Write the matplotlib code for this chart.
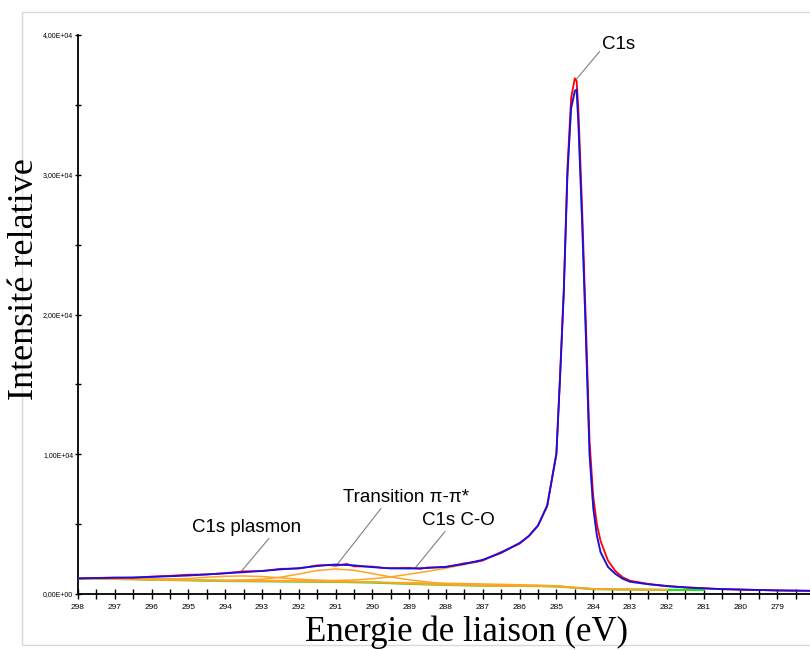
import matplotlib
matplotlib.use("Agg")
import matplotlib.pyplot as plt
from matplotlib.patches import Rectangle
from matplotlib.ticker import MultipleLocator, FixedLocator, FuncFormatter

energie_fit = [298, 297, 296, 295, 294, 293.5, 293, 292.5, 292, 291.5, 291, 290.5,
               290, 289.5, 289, 288.5, 288, 287.5, 287, 286.5, 286, 285.75, 285.5,
               285.25, 285.0, 284.9, 284.8, 284.7, 284.6, 284.5, 284.45, 284.4,
               284.3, 284.2, 284.1, 284.0, 283.9, 283.8, 283.6, 283.4, 283.2, 283.0,
               282.5, 282, 281.5, 281, 280, 279, 278]
enveloppe = [1120, 1160, 1220, 1320, 1480, 1560, 1650, 1760, 1850, 2000, 2110, 2050,
             1920, 1830, 1820, 1860, 1950, 2150, 2450, 2950, 3650, 4150, 4900,
             6300, 10000, 15500, 21500, 30000, 34800, 36000, 36100, 33500,
             26500, 18500, 10000, 6200, 4200, 3000, 1950, 1450, 1100, 880,
             700, 560, 470, 400, 310, 260, 230]
c1s_principal = [1120, 1080, 1040, 1000, 985, 975, 965, 960, 960, 965, 975, 1000,
                 1090, 1230, 1420, 1620, 1850, 2100, 2420, 2920, 3620, 4120, 4870,
                 6270, 9950, 15400, 21400, 29800, 34600, 35800, 35900, 33300,
                 26300, 18300, 9900, 6100, 4100, 2950, 1900, 1420, 1080, 860,
                 690, 550, 460, 390, 300, 250, 220]

energie_mes = [298, 297.5, 297, 296.5, 296, 295.5, 295, 294.5, 294, 293.5, 293, 292.5,
               292, 291.5, 291.2, 291, 290.7, 290.5, 290, 289.7, 289.5, 289, 288.7,
               288.5, 288, 287.5, 287.2, 287, 286.5, 286, 285.75, 285.5, 285.25,
               285.0, 284.9, 284.8, 284.7, 284.6, 284.5, 284.45, 284.4, 284.3, 284.2,
               284.1, 284.0, 283.9, 283.8, 283.6, 283.4, 283.2, 283.0, 282.5, 282,
               281.5, 281, 280.5, 280, 279, 278]
mesure = [1100, 1150, 1180, 1150, 1250, 1300, 1380, 1400, 1490, 1620, 1640, 1800,
          1820, 2050, 2080, 2020, 2150, 1980, 1960, 1870, 1850, 1870, 1800,
          1900, 1920, 2200, 2280, 2400, 3000, 3600, 4150, 4900, 6350,
          10100, 15700, 21800, 30500, 35500, 36900, 36700, 34500, 27500, 19500,
          11000, 7000, 5000, 3800, 2400, 1650, 1200, 950,
          720, 580, 480, 420, 340, 330, 250, 220]

energie_fond = [298, 297, 296, 295, 294, 293, 292, 291, 290, 289, 288, 287, 286,
                285.5, 285, 284.5, 284, 283, 282, 281]
fond = [1120, 1080, 1030, 980, 930, 910, 890, 870, 820, 730, 650, 600, 580,
        570, 540, 450, 350, 320, 300, 290]

energie_comp = [298, 297, 296, 295, 294.5, 294, 293.5, 293, 292.5, 292, 291.5, 291,
                290.5, 290, 289.5, 289, 288.5, 288, 287.5, 287, 286.5, 286, 285.5,
                285, 284.5, 284, 283.5, 283, 282.5, 282]
c1s_co = [1120, 1080, 1030, 985, 960, 940, 925, 915, 905, 895, 885, 875,
          860, 845, 825, 805, 785, 765, 745, 720, 690, 660, 630,
          590, 470, 370, 340, 320, 310, 300]
pi_pi = [1120, 1080, 1030, 990, 970, 960, 1000, 1060, 1200, 1430, 1680, 1790,
         1700, 1460, 1220, 1010, 860, 730, 660, 610, 590, 580, 570,
         540, 450, 350, 330, 320, 310, 300]
plasmon = [1120, 1090, 1070, 1110, 1200, 1270, 1290, 1250, 1160, 1060, 990, 930,
           890, 840, 790, 740, 690, 650, 620, 600, 590, 580, 570,
           540, 450, 350, 330, 320, 310, 300]

y_ticks = [0, 10000, 20000, 30000, 40000]
y_labels = ["0,00E+00", "1,00E+04", "2,00E+04", "3,00E+04", "4,00E+04"]

W, H = 810, 650
fig = plt.figure(figsize=(W / 100, H / 100), dpi=100)
plt.rcParams['font.family'] = ['Liberation Sans', 'DejaVu Sans']

# cadre gris autour du graphique
fig.patches.append(Rectangle((22 / W, 1 - 645 / H), 1.0, (645 - 12) / H,
                             transform=fig.transFigure, fill=False,
                             edgecolor="#d9d9d9", linewidth=1.0))

ax = fig.add_axes([78 / W, 1 - 594 / H, (810 - 78) / W, (594 - 35) / H])

ax.plot(energie_fond, fond, color="#22e01a", lw=1.6, zorder=2)
for comp in (plasmon, pi_pi, c1s_co):
    ax.plot(energie_comp, comp, color="#ffa424", lw=1.1, zorder=3)
ax.plot(energie_fit, c1s_principal, color="#ffa424", lw=1.1, zorder=3)
ax.plot(energie_mes, mesure, color="#ff0000", lw=1.3, zorder=4)
ax.plot(energie_fit, enveloppe, color="#1010f0", lw=1.3, zorder=5)

ax.set_xlim(298, 298 - (810 - 78) / 36.8)
ax.set_ylim(0, 40000)

for s in ("top", "right"):
    ax.spines[s].set_visible(False)
ax.spines["left"].set_linewidth(1.3)
ax.spines["bottom"].set_linewidth(1.3)

ax.xaxis.set_major_locator(MultipleLocator(1))
ax.xaxis.set_minor_locator(MultipleLocator(0.5))
ax.xaxis.set_major_formatter(FuncFormatter(lambda v, p: f"{v:.0f}"))
ax.tick_params(axis="x", which="both", direction="inout", length=7, width=1,
               labelsize=6, pad=4, colors="black")
ax.yaxis.set_major_locator(FixedLocator(y_ticks))
ax.set_yticklabels(y_labels)
ax.yaxis.set_minor_locator(MultipleLocator(5000))
ax.tick_params(axis="y", which="both", direction="inout", length=5, width=1,
               labelsize=5, pad=1)

# titres des axes (police serif comme l'original)
fig.text(467 / W, 1 / H, "Energie de liaison (eV)", family="Liberation Serif",
         fontsize=25, ha="center", va="bottom")
fig.text(25 / W, 1 - 279 / H, "Intensité relative", family="Liberation Serif",
         fontsize=26, ha="center", va="center", rotation=90)

# annotations des composantes
def fleche(rx, ry):
    return dict(arrowstyle="-", color="#808080", lw=0.8, shrinkA=0, shrinkB=0,
                relpos=(rx, ry))

ax.annotate("C1s", xy=(284.47, 36800), xytext=(283.75, 39300),
            fontsize=13.5, ha="left", va="center", arrowprops=fleche(0, 0.3))
ax.annotate("Transition π-π*", xy=(290.96, 2100), xytext=(289.09, 6930),
            fontsize=13.5, ha="center", va="center", arrowprops=fleche(0.32, 0))
ax.annotate("C1s plasmon", xy=(293.6, 1500), xytext=(293.43, 4780),
            fontsize=13.5, ha="center", va="center", arrowprops=fleche(0.73, 0))
ax.annotate("C1s C-O", xy=(288.84, 1850), xytext=(287.67, 5280),
            fontsize=13.5, ha="center", va="center", arrowprops=fleche(0.35, 0))

fig.savefig("out.png", dpi=100)
